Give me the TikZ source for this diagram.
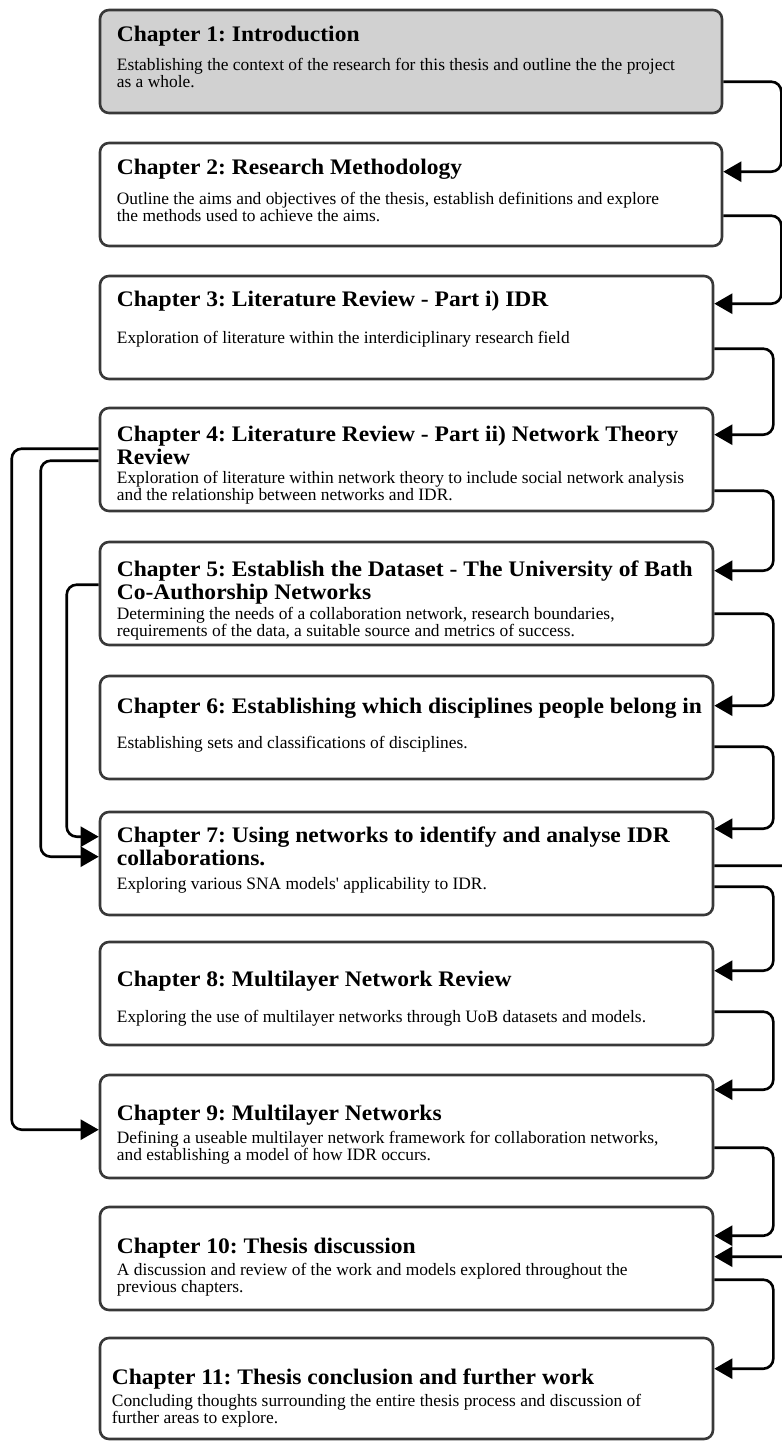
\documentclass[tikz,border=0pt]{standalone}
\usepackage{fontspec}
\setmainfont{Liberation Serif}
\newfontfamily\headfont[FakeStretch=1.06]{Liberation Serif}
\usetikzlibrary{arrows.meta,calc}
\frenchspacing

\begin{document}
\begin{tikzpicture}[x=1pt,y=-1pt,
        chapbox/.style={draw=black!78,line width=2.6pt,rounded corners=9pt,minimum width=613pt,minimum height=103pt,inner sep=0pt},
        head/.style={anchor=north west,inner sep=0pt,align=left,font=\headfont\bfseries\fontsize{22.2}{23}\selectfont},
        desc/.style={anchor=north west,inner sep=0pt,align=left,font=\fontsize{17.4}{17}\selectfont},
        link/.style={line width=2.6pt,rounded corners=10pt,-{Triangle[length=18pt,width=20pt]}}]
        \useasboundingbox (0,0) rectangle (782,1441);
        % chapter boxes
        \node[chapbox,minimum width=622pt,fill=black!18] (box1) at (411,61.5) {};
        \node[chapbox,minimum width=622pt] (box2) at (411,194.5) {};
        \node[chapbox] (box3) at (406.5,327.5) {};
        \node[chapbox] (box4) at (406.5,459.5) {};
        \node[chapbox] (box5) at (406.5,593.5) {};
        \node[chapbox] (box6) at (406.5,727.5) {};
        \node[chapbox] (box7) at (406.5,863.5) {};
        \node[chapbox] (box8) at (406.5,993.5) {};
        \node[chapbox] (box9) at (406.5,1126.5) {};
        \node[chapbox] (box10) at (406.5,1258.5) {};
        \node[chapbox,minimum height=101pt] (box11) at (406.5,1388.5) {};
        % titles and descriptions
        \node[head] (head1) at ($(box1.north west)+(18,17)$) {Chapter 1: Introduction};
        \node[desc] (desc1) at ($(box1.north west)+(18,49)$) {Establishing the context of the research for this thesis and outline the the project\\as a whole.};
        \node[head] (head2) at ($(box2.north west)+(18,17)$) {Chapter 2: Research Methodology};
        \node[desc] (desc2) at ($(box2.north west)+(18,50)$) {Outline the aims and objectives of the thesis, establish definitions and explore\\the methods used to achieve the aims.};
        \node[head] (head3) at ($(box3.north west)+(18,16)$) {Chapter 3: Literature Review - Part i) IDR};
        \node[desc] (desc3) at ($(box3.north west)+(18,56)$) {Exploration of literature within the interdiciplinary research field};
        \node[head] (head4) at ($(box4.north west)+(18,19)$) {Chapter 4: Literature Review - Part ii) Network Theory\\Review};
        \node[desc] (desc4) at ($(box4.north west)+(18,64)$) {Exploration of literature within network theory to include social network analysis\\and the relationship between networks and IDR.};
        \node[head] (head5) at ($(box5.north west)+(18,20)$) {Chapter 5: Establish the Dataset - The University of Bath\\Co-Authorship Networks};
        \node[desc] (desc5) at ($(box5.north west)+(18,66)$) {Determining the needs of a collaboration network, research boundaries,\\requirements of the data, a suitable source and metrics of success.};
        \node[head] (head6) at ($(box6.north west)+(18,23)$) {Chapter 6: Establishing which disciplines people belong in};
        \node[desc] (desc6) at ($(box6.north west)+(18,61)$) {Establishing sets and classifications of disciplines.};
        \node[head] (head7) at ($(box7.north west)+(18,16)$) {Chapter 7: Using networks to identify and analyse IDR\\collaborations.};
        \node[desc] (desc7) at ($(box7.north west)+(18,67)$) {Exploring various SNA models\textquotesingle\ applicability to IDR.};
        \node[head] (head8) at ($(box8.north west)+(18,30)$) {Chapter 8: Multilayer Network Review};
        \node[desc] (desc8) at ($(box8.north west)+(18,69)$) {Exploring the use of multilayer networks through UoB datasets and models.};
        \node[head] (head9) at ($(box9.north west)+(18,31)$) {Chapter 9: Multilayer Networks};
        \node[desc] (desc9) at ($(box9.north west)+(18,57)$) {Defining a useable multilayer network framework for collaboration networks,\\and establishing a model of how IDR occurs.};
        \node[head] (head10) at ($(box10.north west)+(18,32)$) {Chapter 10: Thesis discussion};
        \node[desc] (desc10) at ($(box10.north west)+(18,57)$) {A discussion and review of the work and models explored throughout the\\previous chapters.};
        \node[head] (head11) at ($(box11.north west)+(13,32)$) {Chapter 11: Thesis conclusion and further work};
        \node[desc] (desc11) at ($(box11.north west)+(13,57)$) {Concluding thoughts surrounding the entire thesis process and discussion of\\further areas to explore.};
        % reading order on the right
        \draw[link] ($(box1.north east)+(0,73)$) -- ++(58,0) |- ($(box2.north east)+(0,30)$);
        \draw[link] ($(box2.north east)+(0,74)$) -- ++(58,0) |- ($(box3.north east)+(0,29)$);
        \draw[link] ($(box3.north east)+(0,74)$) -- ++(59,0) |- ($(box4.north east)+(0,28)$);
        \draw[link] ($(box4.north east)+(0,84)$) -- ++(59,0) |- ($(box5.north east)+(0,30)$);
        \draw[link] ($(box5.north east)+(0,73)$) -- ++(59,0) |- ($(box6.north east)+(0,31)$);
        \draw[link] ($(box6.north east)+(0,72)$) -- ++(59,0) |- ($(box7.north east)+(0,18)$);
        \draw[link] ($(box7.north east)+(0,76)$) -- ++(59,0) |- ($(box8.north east)+(0,30)$);
        \draw[link] ($(box8.north east)+(0,71)$) -- ++(59,0) |- ($(box9.north east)+(0,16)$);
        \draw[link] ($(box9.north east)+(0,74)$) -- ++(59,0) |- ($(box10.north east)+(0,30)$);
        \draw[link] ($(box10.north east)+(0,74)$) -- ++(59,0) |- ($(box11.north east)+(0,32)$);
        \draw[link] ($(box7.north east)+(0,55)$) -- ++(77,0) |- ($(box10.north east)+(0,51)$);
        % links on the left
        \draw[link] ($(box4.north west)+(0,42)$) -- ++(-87,0) |- ($(box9.north west)+(0,56)$);
        \draw[link] ($(box4.north west)+(0,54)$) -- ++(-58,0) |- ($(box7.north west)+(0,46)$);
        \draw[link] ($(box5.north west)+(0,44)$) -- ++(-32,0) |- ($(box7.north west)+(0,26)$);
\end{tikzpicture}
\end{document}
